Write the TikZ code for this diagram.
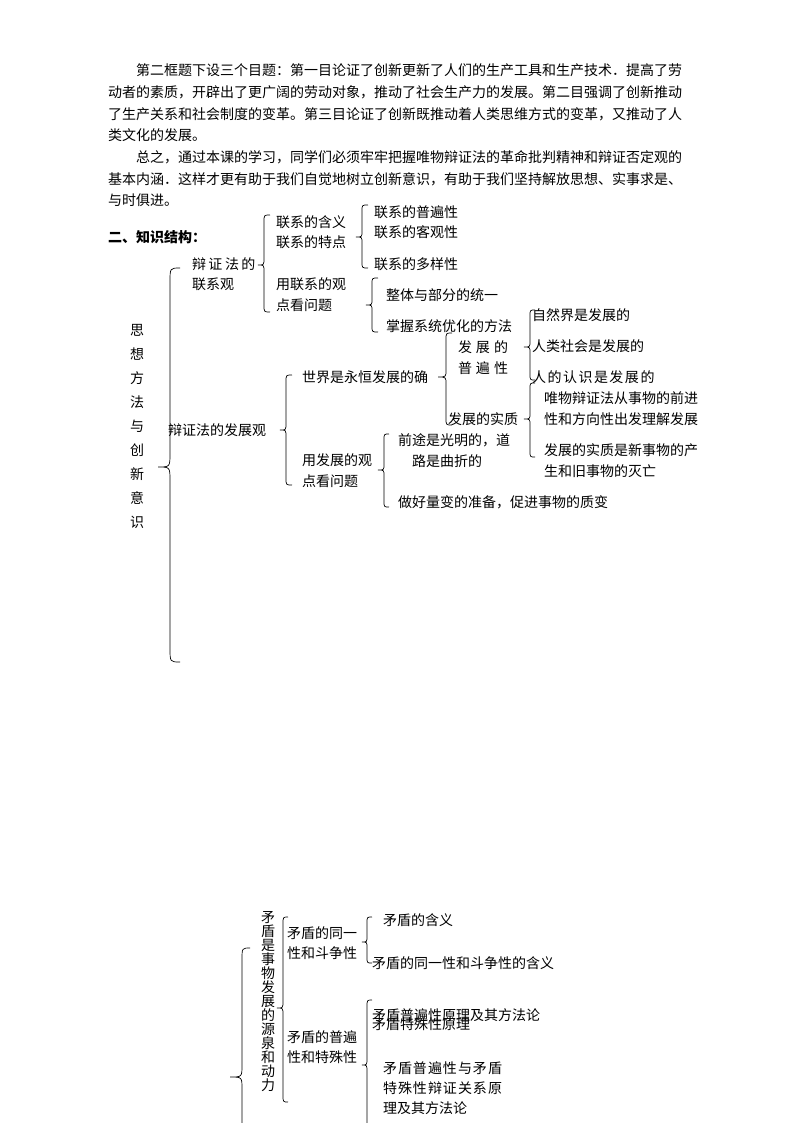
\documentclass[tikz,border=0pt]{standalone}
\usepackage{fontspec}
\setmainfont{Noto Sans CJK SC}
\newcommand\mybrace[7]{%
\draw[line width=0.7pt] ({#1+#5},#2) .. controls (#1,#2) .. (#1,{#2+#7}) -- (#1,{#3-#7}) .. controls (#1,#3) .. ({#1-#6},#3) .. controls (#1,#3) .. (#1,{#3+#7}) -- (#1,{#4-#7}) .. controls (#1,#4) .. ({#1+#5},#4);}
\begin{document}
\begin{tikzpicture}[x=1pt,y=-1pt,
  every node/.style={inner sep=0pt,outer sep=0pt,font=\fontsize{14}{16}\selectfont},
  tx/.style={anchor=west}]
\useasboundingbox (0,0) rectangle (794,1123);
% paragraph
\node[tx] (p1) at (136,70) {第二框题下设三个目题：第一目论证了创新更新了人们的生产工具和生产技术．提高了劳};
\node[tx] (p2) at (108,92) {动者的素质，开辟出了更广阔的劳动对象，推动了社会生产力的发展。第二目强调了创新推动};
\node[tx] (p3) at (108,114) {了生产关系和社会制度的变革。第三目论证了创新既推动着人类思维方式的变革，又推动了人};
\node[tx] (p4) at (108,135) {类文化的发展。};
\node[tx] (p5) at (136,157) {总之，通过本课的学习，同学们必须牢牢把握唯物辩证法的革命批判精神和辩证否定观的};
\node[tx] (p6) at (108,179) {基本内涵．这样才更有助于我们自觉地树立创新意识，有助于我们坚持解放思想、实事求是、};
\node[tx] (p7) at (108,200) {与时俱进。};
\node[tx,font=\fontsize{14}{16}\selectfont\bfseries] (h) at (108,237) {二、知识结构：};
% big left
\node[align=center,font=\fontsize{14}{24}\selectfont] (root) at (137,426) {思\\想\\方\\法\\与\\创\\新\\意\\识};
\mybrace{170}{268}{467}{662}{10}{12}{14}
\node[tx] (lx1) at (192,264) {辩\kern2.5pt 证\kern2.5pt 法\kern2.5pt 的};
\node[tx] (lx2) at (192,284) {联系观};
\mybrace{264}{215}{265}{312}{6}{6}{7}
\node[tx] (hy) at (276,222) {联系的含义};
\node[tx] (td) at (276,242) {联系的特点};
\mybrace{362}{205}{237}{268}{6}{6}{6}
\node[tx] (pb) at (374,212) {联系的普遍性};
\node[tx] (kg) at (374,232) {联系的客观性};
\node[tx] (dy) at (374,264) {联系的多样性};
\node[tx] (yl1) at (276,284) {用联系的观};
\node[tx] (yl2) at (276,305) {点看问题};
\mybrace{372}{278}{305}{332}{6}{6}{6}
\node[tx] (zt) at (386,295) {整体与部分的统一};
\node[tx] (zw) at (386,326) {掌握系统优化的方法};
% development
\node[tx] (fz) at (168,430) {辩证法的发展观};
\mybrace{286}{375}{430}{485}{6}{6}{7}
\node[tx] (sj) at (302,377) {世界是永恒发展的确};
\mybrace{446}{333}{377}{425}{6}{8}{7}
\node[tx] (fd1) at (458,347) {发\kern4pt 展\kern4pt 的};
\node[tx] (fd2) at (458,368) {普\kern4pt 遍\kern4pt 性};
\node[tx] (sz) at (448,419) {发展的实质};
\mybrace{530}{310}{347}{380}{5}{6}{6}
\node[tx] (zr) at (532,315) {自然界是发展的};
\node[tx] (rl) at (532,346) {人类社会是发展的};
\node[tx] (rd) at (532,377) {人\kern1.5pt 的\kern1.5pt 认\kern1.5pt 识\kern1.5pt 是\kern1.5pt 发\kern1.5pt 展\kern1.5pt 的};
\mybrace{530}{383}{419}{457}{5}{6}{6}
\node[tx] (wb1) at (544,398) {唯物辩证法从事物的前进};
\node[tx] (wb2) at (544,419) {性和方向性出发理解发展};
\node[tx] (fs1) at (544,450) {发展的实质是新事物的产};
\node[tx] (fs2) at (544,471) {生和旧事物的灭亡};
\node[tx] (yf1) at (302,460) {用发展的观};
\node[tx] (yf2) at (302,481) {点看问题};
\mybrace{384}{434}{470}{507}{5}{6}{6}
\node[tx] (qt1) at (398,440) {前途是光明的，道};
\node[tx] (qt2) at (412,461) {路是曲折的};
\node[tx] (zh) at (398,502) {做好量变的准备，促进事物的质变};
% bottom
\mybrace{242}{948}{1077}{1135}{8}{12}{12}
\node[align=center,font=\fontsize{14}{14}\selectfont] (md) at (268,1002) {矛\\盾\\是\\事\\物\\发\\展\\的\\源\\泉\\和\\动\\力};
\mybrace{283}{917}{1008}{1102}{5}{6}{7}
\node[tx] (ty1) at (287,933) {矛盾的同一};
\node[tx] (ty2) at (287,953) {性和斗争性};
\mybrace{367}{917}{942}{963}{5}{5}{6}
\node[tx] (hy2) at (383,920) {矛盾的含义};
\node[tx] (tyh) at (372,963) {矛盾的同一性和斗争性的含义};
\node[tx] (pt1) at (287,1037) {矛盾的普遍};
\node[tx] (pt2) at (287,1057) {性和特殊性};
\mybrace{367}{1000}{1065}{1135}{5}{5}{7}
\node[tx] (pb2) at (372,1015) {矛盾普遍性原理及其方法论};
\node[tx] (ts) at (372,1024) {矛盾特殊性原理};
\node[tx] (gx1) at (383,1068) {矛\kern1pt 盾\kern1pt 普\kern1pt 遍\kern1pt 性\kern1pt 与\kern1pt 矛\kern1pt 盾};
\node[tx] (gx2) at (383,1088) {特\kern1pt 殊\kern1pt 性\kern1pt 辩\kern1pt 证\kern1pt 关\kern1pt 系\kern1pt 原};
\node[tx] (gx3) at (383,1108) {理及其方法论};
\end{tikzpicture}
\end{document}
